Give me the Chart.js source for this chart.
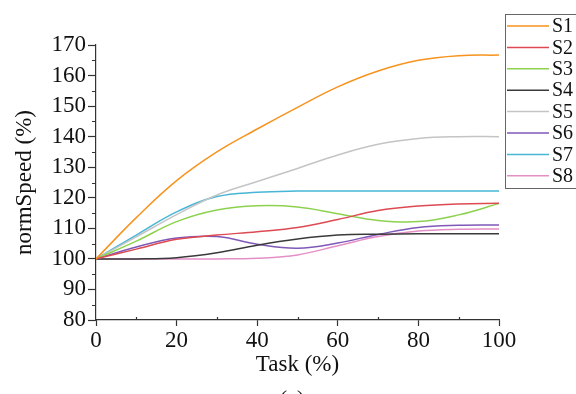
<!DOCTYPE html>
<html>
<head>
<meta charset="utf-8">
<script src="https://cdn.jsdelivr.net/npm/chart.js@4"></script>
<style>
  html, body { margin: 0; padding: 0; background: #fff; }
  #wrap { width: 576px; height: 394px; }
</style>
</head>
<body>
<div id="wrap"><canvas id="speedChart" width="576" height="394"></canvas></div>
<script>
// Task progress (%) on the x axis
const task = [0, 10, 20, 30, 40, 50, 60, 70, 80, 90, 100];

// normSpeed (%) for each run
const s1 = [100, 113.5, 125.6, 135, 142.5, 149.6, 156.3, 161.5, 165, 166.5, 166.7];
const s2 = [100, 103.2, 106.4, 107.8, 108.9, 110.3, 112.9, 115.8, 117.3, 118, 118.2];
const s3 = [100, 105.8, 112.2, 116, 117.4, 117, 114.8, 112.6, 112.2, 114.4, 118.1];
const s4 = [100, 100, 100.4, 102, 104.5, 106.5, 107.8, 108.1, 108.2, 108.2, 108.2];
const s5 = [100, 107.2, 114.5, 120.9, 125.3, 129.6, 134, 137.5, 139.4, 140, 140];
const s6 = [100, 103.9, 106.8, 107.3, 104.8, 103.5, 105.2, 108, 110.3, 111, 111.1];
const s7 = [100, 107.8, 115.4, 120.4, 121.8, 122.2, 122.2, 122.2, 122.2, 122.2, 122.2];
const s8 = [100, 100, 100, 100, 100.2, 101.3, 104.3, 107.3, 109.1, 109.7, 109.8];

const seriesNames = ['S1', 'S2', 'S3', 'S4', 'S5', 'S6', 'S7', 'S8'];
const seriesValues = [s1, s2, s3, s4, s5, s6, s7, s8];
const seriesColors = ['#f7931e', '#dd4a52', '#8dd24f', '#3a3a3a', '#c4c4c4', '#8058b8', '#47b6d6', '#e48fc6'];

const yTicks = [80, 90, 100, 110, 120, 130, 140, 150, 160, 170];
const xTicks = [0, 20, 40, 60, 80, 100];

const serif = '"Liberation Serif", "Times New Roman", serif';
const axisColor = '#333';

const datasets = seriesNames.map((name, i) => ({
  label: name,
  data: task.map((t, j) => ({ x: t, y: seriesValues[i][j] })),
  borderColor: seriesColors[i],
  backgroundColor: seriesColors[i],
  borderWidth: 1.5,
  pointRadius: 0,
  tension: 0.4,
  fill: false
}));

// small ticks between the labelled ones, plus the legend box and panel tag
const extras = {
  id: 'extras',
  afterDraw(chart) {
    const ctx = chart.ctx;
    const xs = chart.scales.x, ys = chart.scales.y;
    const area = chart.chartArea;
    ctx.save();
    ctx.strokeStyle = axisColor;
    ctx.lineWidth = 1.2;
    ctx.beginPath();
    for (let v = 85; v < 170; v += 10) {
      const py = Math.round(ys.getPixelForValue(v)) + 0.5;
      ctx.moveTo(area.left - 4, py);
      ctx.lineTo(area.left, py);
    }
    for (let v = 10; v < 100; v += 20) {
      const px = Math.round(xs.getPixelForValue(v)) + 0.5;
      ctx.moveTo(px, area.bottom - 3);
      ctx.lineTo(px, area.bottom);
    }
    ctx.stroke();

    // legend
    const lx = 505.5, ly = 14.5, lw = 80, lh = 174;
    ctx.fillStyle = '#fff';
    ctx.fillRect(lx, ly, lw, lh);
    ctx.strokeStyle = '#666';
    ctx.lineWidth = 1;
    ctx.strokeRect(lx, ly, lw, lh);
    ctx.font = '20px ' + serif;
    ctx.textBaseline = 'middle';
    chart.data.datasets.forEach((ds, i) => {
      const y = 26 + i * 21.4;
      ctx.strokeStyle = ds.borderColor;
      ctx.lineWidth = 1.5;
      ctx.beginPath();
      ctx.moveTo(507, y);
      ctx.lineTo(549, y);
      ctx.stroke();
      ctx.fillStyle = '#111';
      ctx.fillText(ds.label, 552, y + 1);
    });

    ctx.font = '22px ' + serif;
    ctx.textAlign = 'center';
    ctx.textBaseline = 'top';
    ctx.fillText('(a)', 292, 388);
    ctx.restore();
  }
};

new Chart(document.getElementById('speedChart'), {
  type: 'line',
  data: { datasets },
  options: {
    responsive: false,
    animation: false,
    layout: { padding: { top: 45, right: 77, left: 0, bottom: 0 } },
    plugins: {
      legend: { display: false },
      tooltip: { enabled: false }
    },
    scales: {
      x: {
        type: 'linear',
        min: 0,
        max: 100,
        afterBuildTicks: (scale) => { scale.ticks = xTicks.map(v => ({ value: v })); },
        afterFit: (scale) => { scale.height = 74; },
        ticks: {
          color: '#111',
          font: { family: serif, size: 23 },
          padding: 1,
          maxRotation: 0,
          autoSkip: false
        },
        grid: { drawOnChartArea: false, tickLength: 6, color: axisColor, tickWidth: 1.2 },
        border: { color: axisColor, width: 1.2 },
        title: {
          display: true,
          text: 'Task (%)',
          color: '#111',
          font: { family: serif, size: 23 },
          padding: { top: 0, bottom: 15 }
        }
      },
      y: {
        min: 80,
        max: 170,
        afterBuildTicks: (scale) => { scale.ticks = yTicks.map(v => ({ value: v })); },
        afterFit: (scale) => { scale.width = 96; },
        ticks: {
          color: '#111',
          font: { family: serif, size: 23 },
          padding: 2,
          autoSkip: false
        },
        grid: { drawOnChartArea: false, tickLength: 8, color: axisColor, tickWidth: 1.2 },
        border: { color: axisColor, width: 1.2 },
        title: {
          display: true,
          text: 'normSpeed (%)',
          color: '#111',
          font: { family: serif, size: 23 },
          padding: { top: 11, bottom: 0 }
        }
      }
    }
  },
  plugins: [extras]
});
</script>
</body>
</html>
